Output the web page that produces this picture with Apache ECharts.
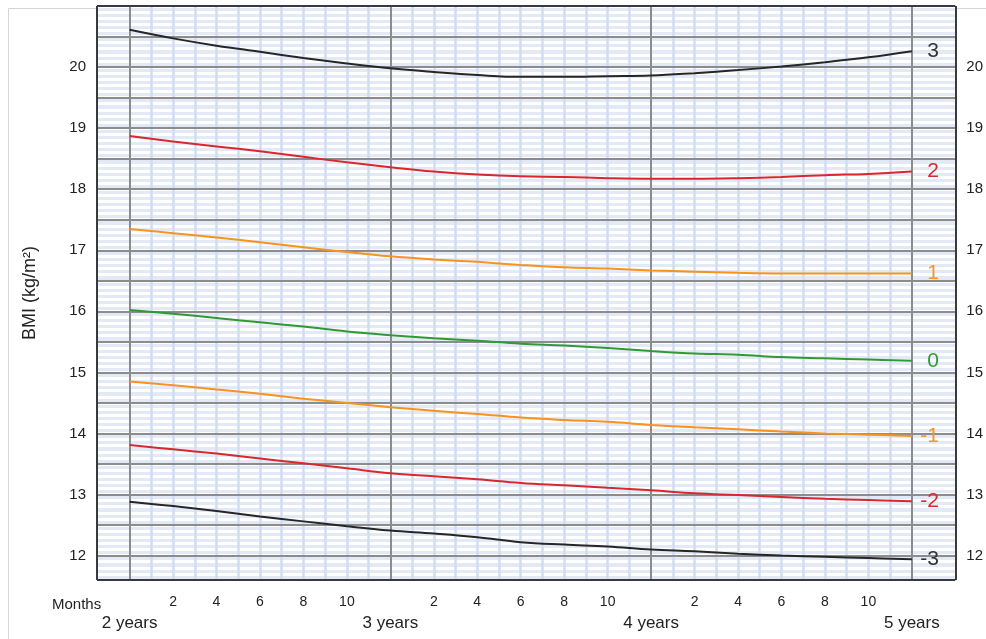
<!DOCTYPE html>
<html><head><meta charset="utf-8">
<script src="https://cdn.jsdelivr.net/npm/echarts@6/dist/echarts.min.js"></script>
<style>html,body{margin:0;padding:0;background:#fff}#c{width:986px;height:639px}</style>
</head><body><div id="c"></div>
<script>
// Age in months
const ages = [24,26,28,30,32,34,36,38,40,42,44,46,48,50,52,54,56,58,60];
// BMI z-score curves (kg/m²)
const sdPos3 = [20.61,20.47,20.35,20.25,20.15,20.06,19.98,19.92,19.87,19.84,19.84,19.85,19.86,19.90,19.95,20.01,20.08,20.16,20.26];
const sdPos2 = [18.87,18.78,18.70,18.62,18.53,18.44,18.36,18.29,18.24,18.21,18.20,18.18,18.17,18.17,18.18,18.20,18.23,18.25,18.29];
const sdPos1 = [17.35,17.28,17.21,17.13,17.05,16.97,16.90,16.85,16.81,16.76,16.72,16.70,16.67,16.65,16.63,16.62,16.62,16.62,16.62];
const sd0    = [16.02,15.96,15.89,15.82,15.75,15.67,15.61,15.56,15.52,15.47,15.44,15.40,15.35,15.31,15.29,15.25,15.23,15.21,15.19];
const sdNeg1 = [14.85,14.79,14.72,14.65,14.57,14.50,14.43,14.37,14.32,14.26,14.22,14.19,14.14,14.10,14.07,14.03,14.00,13.98,13.96];
const sdNeg2 = [13.81,13.74,13.67,13.59,13.51,13.43,13.35,13.30,13.25,13.19,13.15,13.11,13.07,13.02,12.99,12.96,12.93,12.91,12.89];
const sdNeg3 = [12.88,12.81,12.73,12.64,12.56,12.48,12.41,12.36,12.30,12.22,12.18,12.15,12.10,12.07,12.03,12.00,11.98,11.96,11.94];
const curveNames = ['3','2','1','0','-1','-2','-3'];
const curveColors = ['#262626','#d9272e','#f7931e','#2f9a34','#f7931e','#d9272e','#262626'];
const labelColors = ['#333333','#d9272e','#f7931e','#2f9a34','#f7931e','#d9272e','#333333'];
const curves = [sdPos3, sdPos2, sdPos1, sd0, sdNeg1, sdNeg2, sdNeg3];

// Tick labels
const monthLabelAges = [26,28,30,32,34,38,40,42,44,46,50,52,54,56,58];
const monthLabels    = ['2','4','6','8','10','2','4','6','8','10','2','4','6','8','10'];
const yearAges   = [24,36,48,60];
const yearLabels = ['2 years','3 years','4 years','5 years'];
const yTickValues = [12,13,14,15,16,17,18,19,20];
// Grid lines
const monthGridAges = [25,26,27,28,29,30,31,32,33,34,35,37,38,39,40,41,42,43,44,45,46,47,49,50,51,52,53,54,55,56,57,58,59];
const majorBmiLines = [12,12.5,13,13.5,14,14.5,15,15.5,16,16.5,17,17.5,18,18.5,19,19.5,20,20.5];

const FONT = 'Liberation Sans, Arial, sans-serif';
const X_MIN = 22.5, X_MAX = 62, Y_MIN = 11.6, Y_MAX = 21;

function xLabelFrom(keys, vals) {
  return function (v) {
    const i = keys.findIndex(k => Math.abs(k - v) < 1e-6);
    return i >= 0 ? vals[i] : '';
  };
}
function yLabel(v) {
  const i = yTickValues.findIndex(k => Math.abs(k - v) < 1e-6);
  return i >= 0 ? String(yTickValues[i]) : '';
}

const series = [];
series.push({
  type: 'line', data: [], z: 2, silent: true,
  markLine: {
    z: 2, silent: true, symbol: ['none','none'], animation: false,
    label: {show: false},
    lineStyle: {color: '#d2ddf1', width: 2.5, type: 'solid'},
    data: monthGridAges.map(a => ({xAxis: a}))
  }
});
series.push({
  type: 'line', data: [], z: 3, silent: true,
  markLine: {
    z: 3, silent: true, symbol: ['none','none'], animation: false,
    label: {show: false},
    lineStyle: {color: '#8c8c8c', width: 2, type: 'solid'},
    data: majorBmiLines.map(v => ({yAxis: v})).concat(yearAges.map(a => ({xAxis: a})))
  }
});
series.push({
  type: 'line', data: [], z: 5, silent: true,
  markLine: {
    z: 5, silent: true, symbol: ['none','none'], animation: false,
    label: {show: false},
    lineStyle: {color: '#3a3a3a', width: 2, type: 'solid'},
    data: [{xAxis: X_MIN}, {xAxis: X_MAX}, {yAxis: Y_MIN}, {yAxis: Y_MAX}]
  }
});
curves.forEach((c, i) => {
  series.push({
    name: curveNames[i], type: 'line', z: 4,
    data: ages.map((a, j) => [a, c[j]]),
    smooth: 0.4, showSymbol: false, symbol: 'none',
    lineStyle: {color: curveColors[i], width: 2},
    itemStyle: {color: curveColors[i]},
    endLabel: {
      show: true, formatter: curveNames[i], color: labelColors[i],
      fontSize: 21, fontFamily: FONT, align: 'right', verticalAlign: 'middle', distance: 27
    },
    animation: false
  });
});

const chart = echarts.init(document.getElementById('c'), null, {renderer: 'canvas'});
chart.setOption({
  backgroundColor: '#ffffff',
  animation: false,
  title: {
    text: 'Months', left: 47, top: 592,
    textStyle: {fontSize: 15, fontWeight: 'normal', color: '#222', fontFamily: FONT}
  },
  graphic: [{
    type: 'rect', left: 6, top: 6, silent: true, z: -10,
    shape: {width: 1000, height: 1000},
    style: {fill: 'none', stroke: '#d6d6d6', lineWidth: 1}
  }],
  grid: {
    left: 97, right: 25, top: 6, bottom: 59,
    show: true, backgroundColor: '#e3eaf6', borderWidth: 0
  },
  xAxis: [{
    type: 'value', min: X_MIN, max: X_MAX, interval: 0.5,
    axisLine: {show: false}, axisTick: {show: false}, splitLine: {show: false},
    axisLabel: {formatter: xLabelFrom(monthLabelAges, monthLabels), margin: 15, fontSize: 14, color: '#222', fontFamily: FONT}
  }, {
    type: 'value', min: X_MIN, max: X_MAX, interval: 0.5, position: 'bottom',
    axisLine: {show: false}, axisTick: {show: false}, splitLine: {show: false},
    axisLabel: {formatter: xLabelFrom(yearAges, yearLabels), margin: 35, fontSize: 17, color: '#222', fontFamily: FONT}
  }],
  yAxis: [{
    type: 'value', min: Y_MIN, max: Y_MAX, interval: 0.1, position: 'left',
    name: 'BMI (kg/m²)', nameLocation: 'middle', nameGap: 58,
    nameTextStyle: {fontSize: 18, color: '#222', fontFamily: FONT},
    axisLine: {show: false}, axisTick: {show: false},
    splitLine: {show: true, lineStyle: {color: '#ffffff', width: 3}},
    axisLabel: {formatter: yLabel, margin: 11, fontSize: 15, color: '#222', fontFamily: FONT}
  }, {
    type: 'value', min: Y_MIN, max: Y_MAX, interval: 0.1, position: 'right',
    axisLine: {show: false}, axisTick: {show: false}, splitLine: {show: false},
    axisLabel: {formatter: yLabel, margin: 11, fontSize: 15, color: '#222', fontFamily: FONT}
  }],
  series: series
});
</script>
</body></html>
